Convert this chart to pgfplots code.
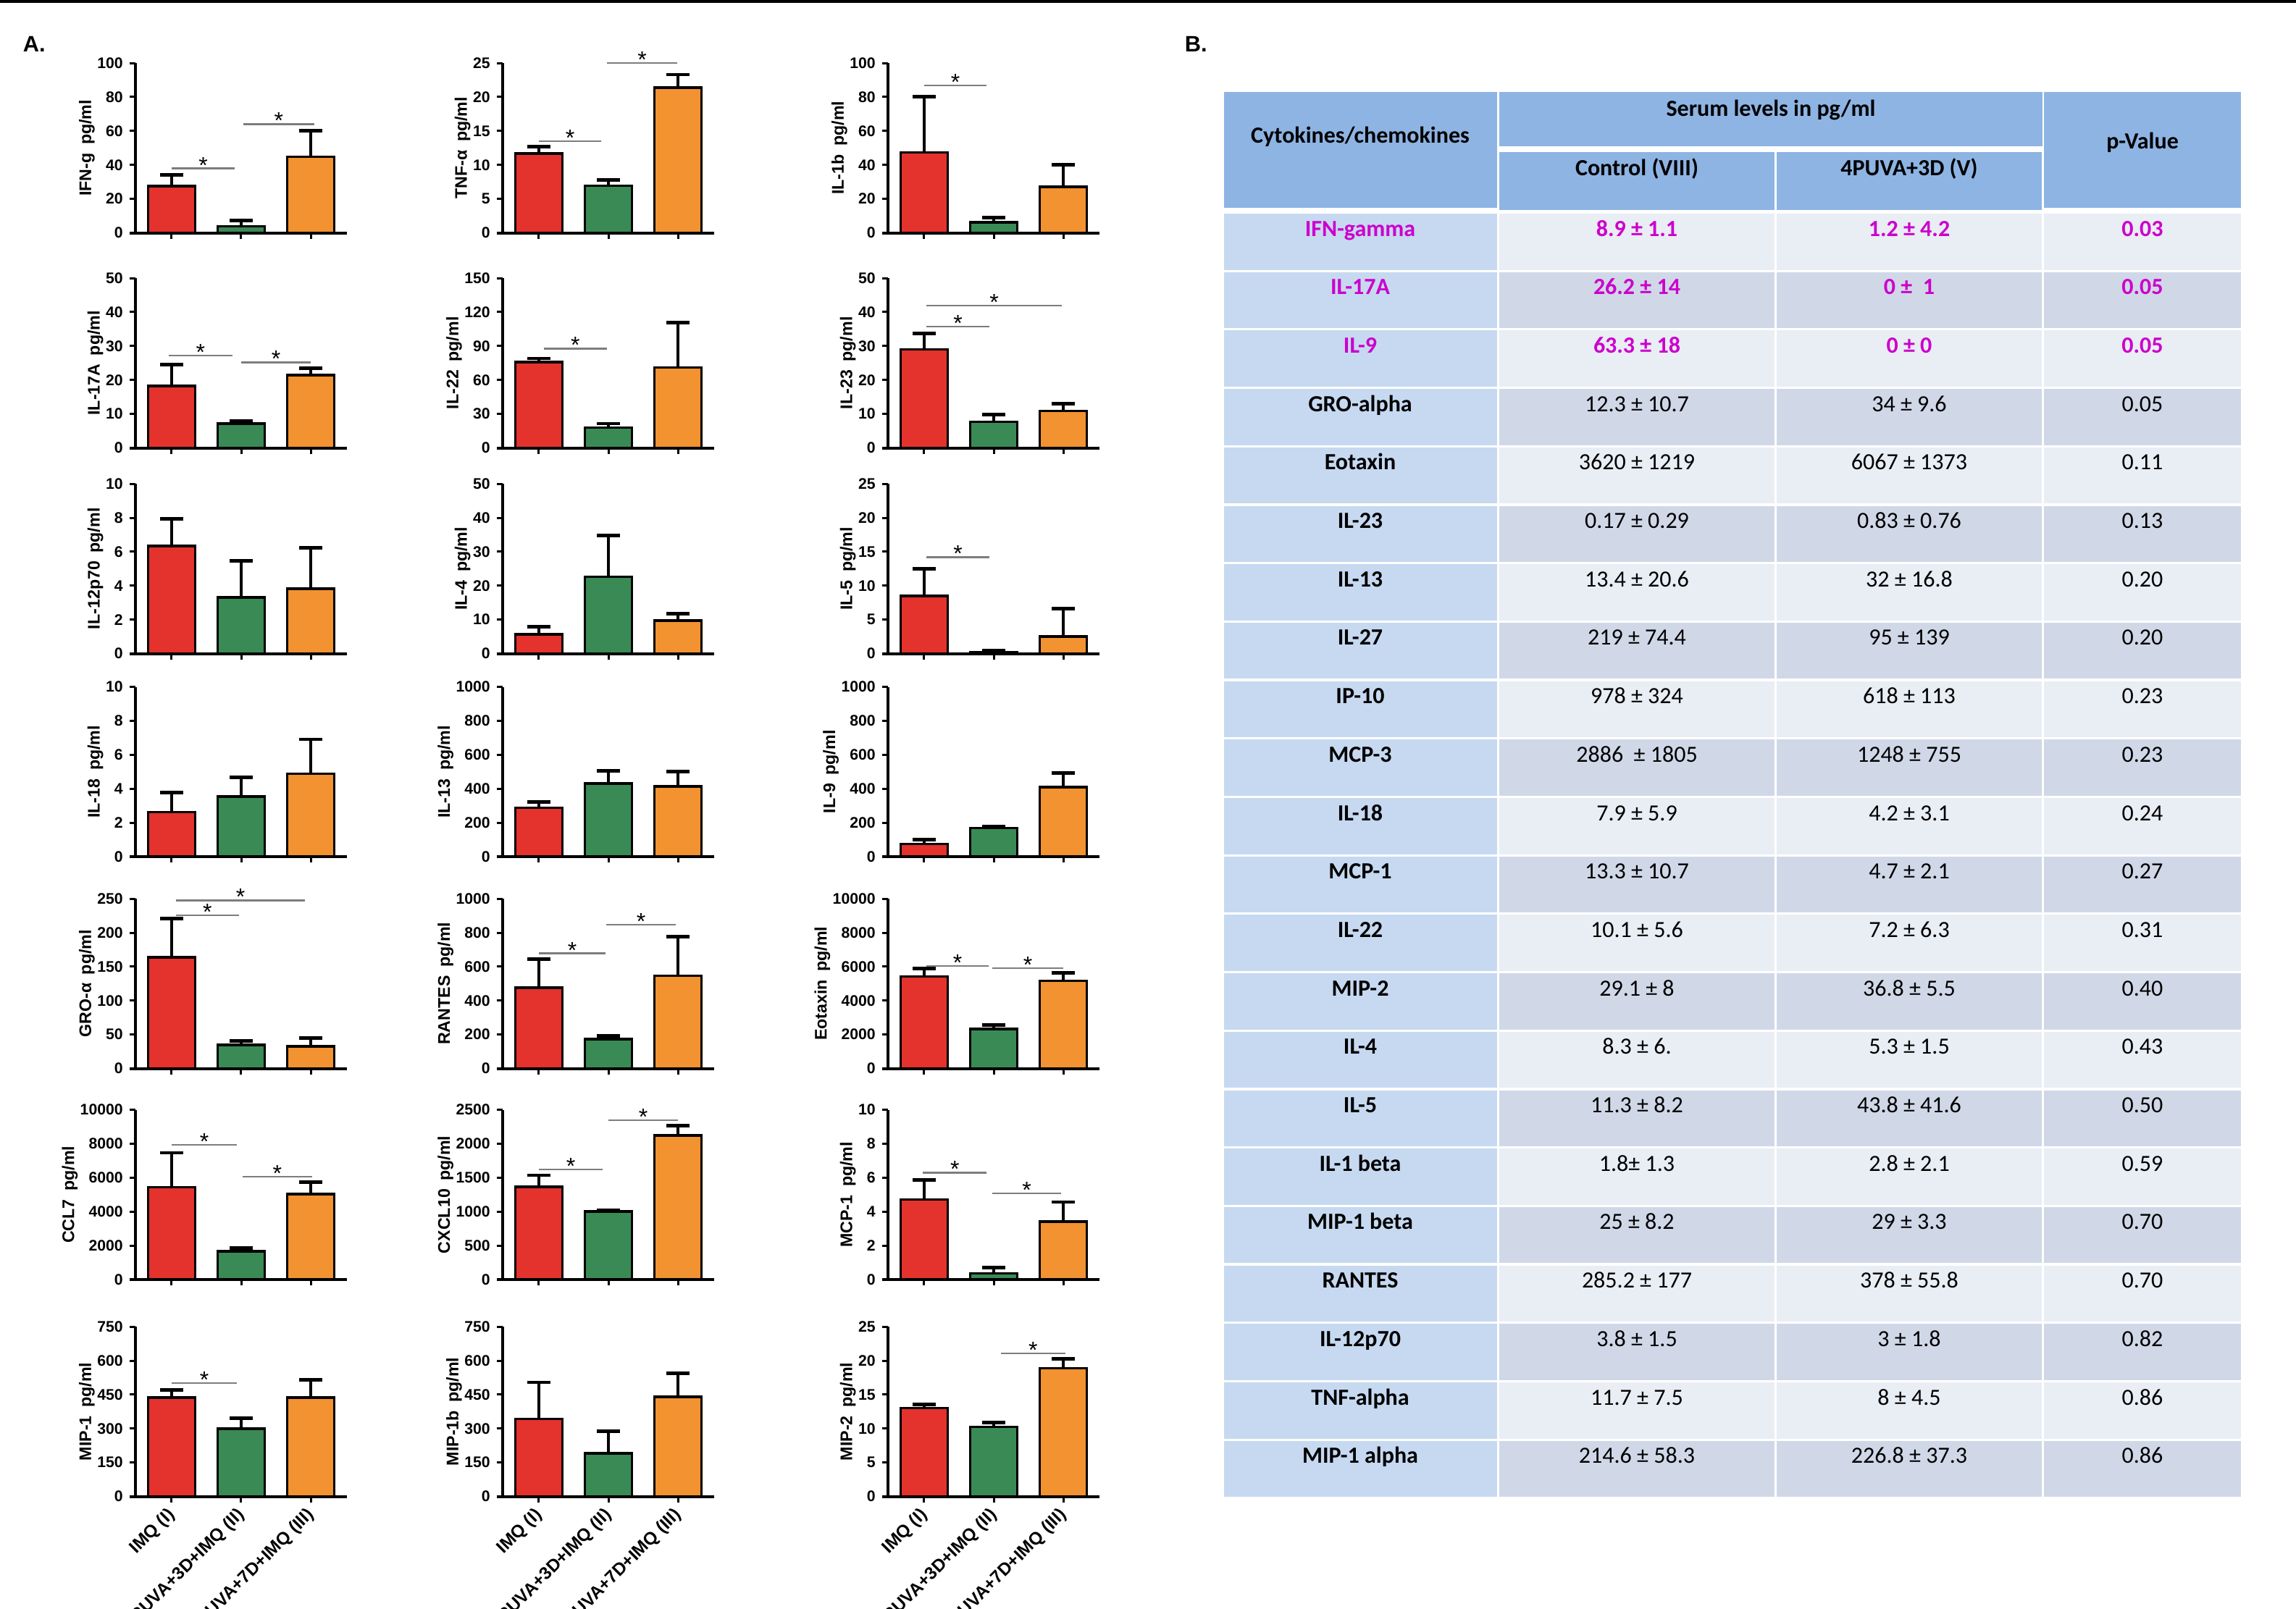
\documentclass[border=0pt]{standalone}
\usepackage{pgfplots}
\pgfplotsset{compat=1.18}
\usepackage{fontspec}
\setmainfont{Liberation Sans}
\newfontfamily\calfont{Carlito}
\definecolor{cRed}{RGB}{228,50,45}
\definecolor{cGreen}{RGB}{58,138,85}
\definecolor{cOrange}{RGB}{242,146,48}
\definecolor{hdr}{RGB}{142,180,227}
\definecolor{colA}{RGB}{198,217,241}
\definecolor{rowL}{RGB}{233,237,244}
\definecolor{rowD}{RGB}{208,216,232}
\definecolor{mag}{RGB}{204,0,204}
\definecolor{sig}{RGB}{125,125,125}

\pgfplotsset{
  cyt/.style={
    scale only axis, width=73pt, height=58.6pt,
    anchor=south west,
    axis lines*=left, axis line style={line width=1pt,-},
    x axis line style={shorten <=-2pt},
    xmin=-0.52, xmax=2.52, ymin=0,
    xtick={0,1,2}, xticklabels={},
    tick align=outside, major tick length=2pt,
    every tick/.style={black, line width=0.75pt},
    tick label style={font=\fontsize{5.3}{6}\selectfont\bfseries},
    yticklabel style={xshift=1.2pt},
    /pgf/number format/assume math mode=true,
    /pgf/number format/1000 sep={},
    scaled y ticks=false,
    ylabel style={font=\fontsize{5.8}{7}\selectfont\bfseries},
    ylabel shift=-6pt,
    clip=false,
  },
  bottomrow/.style={
    xticklabels={IMQ (I),4PUVA+3D+IMQ (II),4PUVA+7D+IMQ (III)},
    xticklabel style={xshift=2.7pt, yshift=-1pt, rotate=45, anchor=east, font=\fontsize{6.1}{7}\selectfont\bfseries},
  },
  b/.style={ybar, bar shift=0pt, bar width=16.25pt, fill=#1, draw=black, line width=0.9pt,
    /pgfplots/error bars/y dir=plus, /pgfplots/error bars/y explicit,
    /pgfplots/error bars/error bar style={line width=0.8pt, black},
    /pgfplots/error bars/error mark options={rotate=90, line width=1.2pt, black, mark size=4pt}},
  pos/.style 2 args={at={(#1*0.25pt,-#2*0.25pt)}},
}
\newcommand{\bars}[6]{%
  \addplot[b=cRed] coordinates {(0,#1) +- (0,#2)};
  \addplot[b=cGreen] coordinates {(1,#3) +- (0,#4)};
  \addplot[b=cOrange] coordinates {(2,#5) +- (0,#6)};}
\newcommand{\sigl}[3]{\draw[sig, line width=0.6pt] (axis cs:#1,#3) -- node[midway, anchor=base, yshift=-1.6pt, inner sep=0pt, font=\fontsize{8}{8}\selectfont, text=black] {*} (axis cs:#2,#3);}

\begin{document}
\begin{tikzpicture}
\path[use as bounding box] (0,0) rectangle (792.5pt,-555.25pt);

% ---------- Row 1 ----------
\begin{axis}[cyt, pos={187}{321.5}, ymax=100, ytick distance=20, ylabel={IFN-g\enspace pg/ml}]
\bars{27.4}{6.9}{3.8}{3.6}{44.8}{15.2}
\sigl{0}{0.91}{37.9}
\sigl{1.03}{2.05}{64}
\end{axis}
\begin{axis}[cyt, pos={694}{321.5}, ymax=25, ytick distance=5, ylabel={TNF-α\enspace pg/ml}]
\bars{11.7}{1.0}{6.95}{0.85}{21.4}{1.9}
\sigl{0}{0.9}{13.5}
\sigl{0.98}{1.99}{25}
\end{axis}
\begin{axis}[cyt, pos={1226}{321.5}, ymax=100, ytick distance=20, ylabel={IL-1b\enspace pg/ml}]
\bars{47.4}{32.9}{6.1}{2.9}{27.2}{12.8}
\sigl{0}{0.9}{86.8}
\end{axis}

% ---------- Row 2 ----------
\begin{axis}[cyt, pos={187}{618.5}, ymax=50, ytick distance=10, ylabel={IL-17A\enspace pg/ml}]
\bars{18.3}{6.2}{7.1}{0.8}{21.4}{2.1}
\sigl{-0.04}{0.87}{27.2}
\sigl{1.0}{2.0}{25.2}
\end{axis}
\begin{axis}[cyt, pos={694}{618.5}, ymax=150, ytick distance=30, ylabel={IL-22\enspace pg/ml}]
\bars{75.7}{3.4}{18}{3.4}{71.1}{39.5}
\sigl{0.07}{0.98}{87.7}
\end{axis}
\begin{axis}[cyt, pos={1226}{618.5}, ymax=50, ytick distance=10, ylabel={IL-23\enspace pg/ml}]
\bars{29}{4.7}{7.7}{2.2}{10.9}{2.2}
\sigl{0.03}{0.94}{35.7}
\sigl{0.03}{1.98}{41.9}
\end{axis}

% ---------- Row 3 ----------
\begin{axis}[cyt, pos={187}{902.5}, ymax=10, ytick distance=2, ylabel={IL-12p70\enspace pg/ml}]
\bars{6.33}{1.62}{3.3}{2.16}{3.82}{2.4}
\end{axis}
\begin{axis}[cyt, pos={694}{902.5}, ymax=50, ytick distance=10, ylabel={IL-4\enspace pg/ml}]
\bars{5.6}{2.3}{22.6}{12.1}{9.7}{2.1}
\end{axis}
\begin{axis}[cyt, pos={1226}{902.5}, ymax=25, ytick distance=5, ylabel={IL-5\enspace pg/ml}]
\bars{8.5}{4.0}{0.2}{0.25}{2.5}{4.1}
\sigl{0.03}{0.94}{14.2}
\end{axis}

% ---------- Row 4 ----------
\begin{axis}[cyt, pos={187}{1183}, ymax=10, ytick distance=2, ylabel={IL-18\enspace pg/ml}]
\bars{2.63}{1.13}{3.54}{1.13}{4.89}{2.02}
\end{axis}
\begin{axis}[cyt, pos={694}{1183}, ymax=1000, ytick distance=200, ylabel={IL-13\enspace pg/ml}]
\bars{288}{33}{430}{77}{415}{87}
\end{axis}
\begin{axis}[cyt, pos={1226}{1183}, ymax=1000, ytick distance=200, ylabel={IL-9\enspace pg/ml}]
\bars{74}{26}{168}{11}{409}{83}
\end{axis}

% ---------- Row 5 ----------
\begin{axis}[cyt, pos={187}{1475.5}, ymax=250, ytick distance=50, ylabel={GRO-α\enspace pg/ml}]
\bars{163.5}{57.5}{34.9}{5.3}{32.4}{12.5}
\sigl{0.06}{0.97}{225.4}
\sigl{0.06}{1.92}{247.5}
\end{axis}
\begin{axis}[cyt, pos={694}{1475.5}, ymax=1000, ytick distance=200, ylabel={RANTES\enspace pg/ml}]
\bars{476}{168}{174}{17}{547}{231}
\sigl{0}{0.96}{678}
\sigl{0.97}{1.97}{846}
\end{axis}
\begin{axis}[cyt, pos={1226}{1475.5}, ymax=10000, ytick distance=2000, ylabel={Eotaxin\enspace pg/ml}]
\bars{5427}{456}{2336}{214}{5157}{470}
\sigl{0.03}{0.93}{6026}
\sigl{0.98}{2.0}{5912}
\end{axis}

% ---------- Row 6 ----------
\begin{axis}[cyt, pos={187}{1767}, ymax=10000, ytick distance=2000, ylabel={CCL7\enspace pg/ml}]
\bars{5436}{2033}{1660}{207}{5041}{706}
\sigl{0}{0.94}{7946}
\sigl{1.02}{2.02}{6058}
\end{axis}
\begin{axis}[cyt, pos={694}{1767}, ymax=2500, ytick distance=500, ylabel={CXCL10\enspace pg/ml}]
\bars{1363}{173}{1001}{19}{2123}{146}
\sigl{0}{0.92}{1620}
\sigl{1.0}{2.0}{2348}
\end{axis}
\begin{axis}[cyt, pos={1226}{1767}, ymax=10, ytick distance=2, ylabel={MCP-1\enspace pg/ml}]
\bars{4.72}{1.15}{0.36}{0.33}{3.42}{1.15}
\sigl{-0.02}{0.9}{6.29}
\sigl{0.98}{1.97}{5.07}
\end{axis}

% ---------- Row 7 ----------
\begin{axis}[cyt, bottomrow, pos={187}{2066.5}, ymax=750, ytick distance=150, ylabel={MIP-1\enspace pg/ml}]
\bars{436}{35}{300}{45}{436}{80}
\sigl{0}{0.94}{501}
\end{axis}
\begin{axis}[cyt, bottomrow, pos={694}{2066.5}, ymax=750, ytick distance=150, ylabel={MIP-1b\enspace pg/ml}]
\bars{343}{161}{191}{96}{441}{102}
\end{axis}
\begin{axis}[cyt, bottomrow, pos={1226}{2066.5}, ymax=25, ytick distance=5, ylabel={MIP-2\enspace pg/ml}]
\bars{13.0}{0.55}{10.24}{0.63}{18.9}{1.4}
\sigl{1.1}{2.03}{21.1}
\end{axis}

% ---------- Frame, panel letters, table ----------
\begin{scope}[x=0.25pt,y=-0.25pt]
\fill[black] (0,0) rectangle (3170,4);
\node[anchor=base west, inner sep=0pt, font=\fontsize{7.7}{8}\selectfont\bfseries] at (31,71) {A.};
\node[anchor=base west, inner sep=0pt, font=\fontsize{7.7}{8}\selectfont\bfseries] at (1635,71) {B.};
% header
\fill[hdr] (1690,127) rectangle (2067,287);
\fill[hdr] (2070,127) rectangle (2820,202);
\fill[hdr] (2070,210) rectangle (2450,290);
\fill[hdr] (2453,210) rectangle (2819,290);
\fill[hdr] (2822,127) rectangle (3094,287);
\begin{scope}[every node/.style={anchor=base, inner sep=0pt, font=\calfont\fontsize{8}{9}\selectfont\bfseries}]
\node at (2445,160) {Serum levels in pg/ml};
\node at (1878,197) {Cytokines/chemokines};
\node at (2260,242) {Control (VIII)};
\node at (2636,242) {4PUVA+3D (V)};
\node at (2958,205) {p-Value};
\end{scope}
\foreach \n/\a/\b/\p/\c [count=\i from 0] in {
  IFN-gamma/8.9 ± 1.1/1.2 ± 4.2/0.03/mag,
  IL-17A/26.2 ± 14/0 ±\ \ 1/0.05/mag,
  IL-9/63.3 ± 18/0 ± 0/0.05/mag,
  GRO-alpha/12.3 ± 10.7/34 ± 9.6/0.05/black,
  Eotaxin/3620 ± 1219/6067 ± 1373/0.11/black,
  IL-23/0.17 ± 0.29/0.83 ± 0.76/0.13/black,
  IL-13/13.4 ± 20.6/32 ± 16.8/0.20/black,
  IL-27/219 ± 74.4/95 ± 139/0.20/black,
  IP-10/978 ± 324/618 ± 113/0.23/black,
  MCP-3/2886\ \ ± 1805/1248 ± 755/0.23/black,
  IL-18/7.9 ± 5.9/4.2 ± 3.1/0.24/black,
  MCP-1/13.3 ± 10.7/4.7 ± 2.1/0.27/black,
  IL-22/10.1 ± 5.6/7.2 ± 6.3/0.31/black,
  MIP-2/29.1 ± 8/36.8 ± 5.5/0.40/black,
  IL-4/8.3 ± 6./5.3 ± 1.5/0.43/black,
  IL-5/11.3 ± 8.2/43.8 ± 41.6/0.50/black,
  IL-1 beta/1.8± 1.3/2.8 ± 2.1/0.59/black,
  MIP-1 beta/25 ± 8.2/29 ± 3.3/0.70/black,
  RANTES/285.2 ± 177/378 ± 55.8/0.70/black,
  IL-12p70/3.8 ± 1.5/3 ± 1.8/0.82/black,
  TNF-alpha/11.7 ± 7.5/8 ± 4.5/0.86/black,
  MIP-1 alpha/214.6 ± 58.3/226.8 ± 37.3/0.86/black}{
  \pgfmathsetmacro\t{295+\i*80.7}
  \pgfmathsetmacro\bt{\t+77.5}
  \pgfmathsetmacro\bl{\t+31}
  \ifodd\i \def\rc{rowD}\else\def\rc{rowL}\fi
  \fill[colA] (1690,\t) rectangle (2067,\bt);
  \fill[\rc] (2070,\t) rectangle (2450,\bt);
  \fill[\rc] (2453,\t) rectangle (2819,\bt);
  \fill[\rc] (2822,\t) rectangle (3094,\bt);
  \node[anchor=base, inner sep=0pt, text=\c, font=\calfont\fontsize{8}{9}\selectfont\bfseries] at (1878,\bl) {\n};
  \ifnum\i<3
    \node[anchor=base, inner sep=0pt, text=\c, font=\calfont\fontsize{8}{9}\selectfont\bfseries] at (2260,\bl) {\a};
    \node[anchor=base, inner sep=0pt, text=\c, font=\calfont\fontsize{8}{9}\selectfont\bfseries] at (2636,\bl) {\b};
    \node[anchor=base, inner sep=0pt, text=\c, font=\calfont\fontsize{8}{9}\selectfont\bfseries] at (2958,\bl) {\p};
  \else
    \node[anchor=base, inner sep=0pt, text=\c, font=\calfont\fontsize{8}{9}\selectfont] at (2260,\bl) {\a};
    \node[anchor=base, inner sep=0pt, text=\c, font=\calfont\fontsize{8}{9}\selectfont] at (2636,\bl) {\b};
    \node[anchor=base, inner sep=0pt, text=\c, font=\calfont\fontsize{8}{9}\selectfont] at (2958,\bl) {\p};
  \fi
}
\end{scope}
\end{tikzpicture}
\end{document}
